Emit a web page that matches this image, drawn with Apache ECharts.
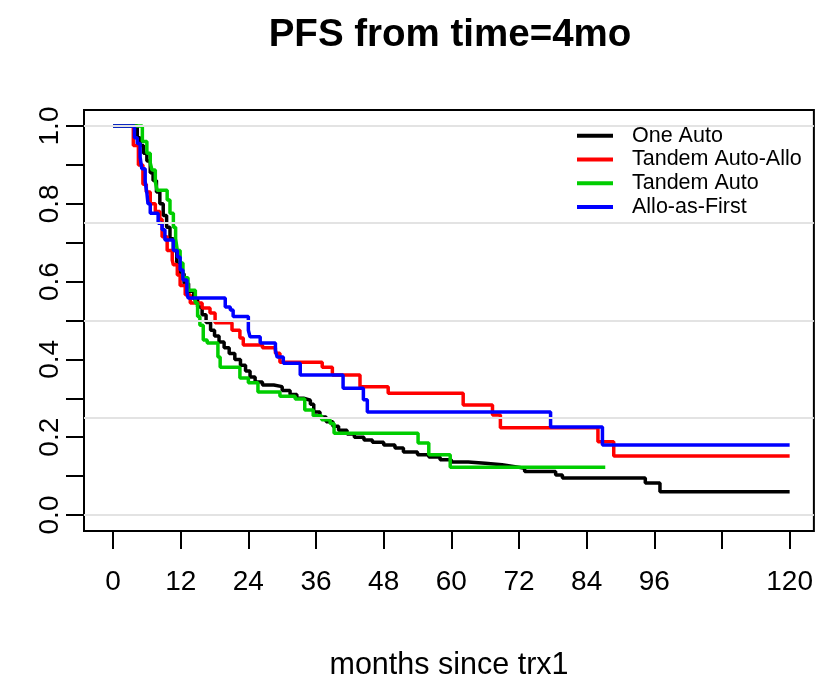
<!DOCTYPE html>
<html>
<head>
<meta charset="utf-8">
<script src="https://cdn.jsdelivr.net/npm/echarts@6/dist/echarts.min.js"></script>
<style>html,body{margin:0;padding:0;background:#fff}#c{width:816px;height:684px}</style>
</head>
<body>
<div id="c"></div>
<script>
// ---- data (months, survival proportion) ----
const seriesNames = ["One Auto", "Tandem Auto-Allo", "Tandem Auto", "Allo-as-First"];
const oneAutoT = [0,4.3,4.8,5.4,6,6.6,7.1,7.7,8.3,8.9,9.5,10.1,10.7,11.3,11.9,12.6,13.4,14.3,15,15.8,16.5,17.3,18,18.8,19.7,20.6,21.6,22.6,23.5,24.3,25.2,26.5,28.5,30,31.4,32.6,33.8,35,35.6,36.7,37.8,39,40,41.5,42.8,44.5,46,48,50,51.5,54,56,58,60,63,66,69,71,73,78.5,79.7,94.4,97,120];
const oneAutoS = [1.0,0.97,0.95,0.93,0.91,0.88,0.86,0.83,0.80,0.77,0.74,0.71,0.68,0.65,0.62,0.595,0.575,0.555,0.535,0.515,0.495,0.475,0.46,0.445,0.43,0.415,0.40,0.385,0.37,0.355,0.342,0.334,0.33,0.32,0.31,0.30,0.295,0.285,0.265,0.252,0.24,0.228,0.218,0.208,0.20,0.193,0.187,0.18,0.172,0.162,0.155,0.149,0.142,0.136,0.133,0.129,0.125,0.12,0.112,0.103,0.095,0.082,0.06,0.06];
const tandemAlloT = [0,3.6,4.5,5.3,5.9,6.6,7.5,8.3,8.7,9.6,10.5,10.7,11.4,11.9,12.8,13.7,15.8,17.2,18.1,21.1,22.5,23.1,26.5,28.8,29.6,37.1,38.9,43.8,48.8,62.1,67.3,68.7,86,88.8,120];
const tandemAlloS = [1.0,0.95,0.90,0.85,0.83,0.80,0.78,0.76,0.715,0.68,0.655,0.643,0.617,0.59,0.566,0.545,0.532,0.519,0.494,0.475,0.455,0.437,0.43,0.416,0.393,0.38,0.36,0.33,0.313,0.283,0.257,0.224,0.188,0.152,0.152];
const tandemAutoT = [0,5.2,6,6.6,6.9,7.5,7.8,9.6,10.1,10.7,11.1,11.4,11.9,12.4,13.3,14.6,15,15.4,16,16.7,18.6,19,22.5,24,25.7,29.6,32.3,34,35.5,37,38.5,39.2,54.1,56,59.8,87.3];
const tandemAutoS = [1.0,0.96,0.93,0.905,0.887,0.857,0.835,0.81,0.776,0.74,0.71,0.68,0.648,0.61,0.578,0.545,0.51,0.488,0.45,0.442,0.406,0.38,0.352,0.34,0.316,0.305,0.298,0.27,0.255,0.245,0.235,0.21,0.185,0.155,0.123,0.123];
const alloFirstT = [0,3.8,4.3,4.8,5.1,5.7,6,6.2,6.6,8,8.7,9.2,10.7,11.4,11.9,12.4,13.1,13.3,19.9,20.8,21.3,24,24.3,26.1,28.8,29.1,30.2,33.2,40.8,44.4,45.1,77.6,86.8,120];
const alloFirstS = [1.0,0.97,0.955,0.92,0.89,0.857,0.828,0.80,0.776,0.75,0.733,0.707,0.68,0.663,0.63,0.604,0.573,0.558,0.535,0.527,0.51,0.475,0.458,0.442,0.424,0.406,0.39,0.36,0.326,0.296,0.265,0.226,0.18,0.18];
const xTicks = [0,12,24,36,48,60,72,84,96,108,120];
const xLabels = [0,12,24,36,48,60,72,84,96,120];
const yTicks = [0,0.1,0.2,0.3,0.4,0.5,0.6,0.7,0.8,0.9,1.0];
const yLabels = [0,0.2,0.4,0.6,0.8,1.0];
const gridLevels = [0,0.25,0.5,0.75,1.0];

const colors = ["#000000", "#FF0000", "#00CD00", "#0000FF"];
const FONT = "Liberation Sans, Arial, sans-serif";
function pairs(t, s) { return t.map((v, i) => [v, s[i]]); }
const allData = [pairs(oneAutoT, oneAutoS), pairs(tandemAlloT, tandemAlloS), pairs(tandemAutoT, tandemAutoS), pairs(alloFirstT, alloFirstS)];

const chart = echarts.init(document.getElementById('c'), null, {renderer: 'canvas'});
const series = [{
  type: 'line', name: '_grid', data: [], silent: true, z: 1,
  markLine: {
    silent: true, symbol: ['none', 'none'], label: {show: false}, animation: false,
    lineStyle: {color: '#e3e3e3', width: 2, type: 'solid'},
    emphasis: {disabled: true},
    data: gridLevels.map(v => ({yAxis: v}))
  }
}];
allData.forEach((d, i) => series.push({
  type: 'line', name: seriesNames[i], data: d, step: 'end', showSymbol: false, symbol: 'none',
  lineStyle: {color: colors[i], width: 3.5}, itemStyle: {color: colors[i]}, z: 3,
  silent: true, emphasis: {disabled: true}
}));

chart.setOption({
  animation: false,
  backgroundColor: '#ffffff',
  grid: {left: 84, top: 110, right: 2, bottom: 153, show: true, borderColor: '#000', borderWidth: 2, backgroundColor: 'transparent'},
  xAxis: {
    type: 'value', min: -5.15, max: 124.3,
    axisLine: {show: false, onZero: false}, splitLine: {show: false},
    axisTick: {show: true, inside: false, length: 18, lineStyle: {color: '#000', width: 2}, customValues: xTicks},
    axisLabel: {show: true, customValues: xLabels, margin: 37, color: '#000', fontSize: 28, fontFamily: FONT}
  },
  yAxis: {
    type: 'value', min: -0.0411, max: 1.0411,
    axisLine: {show: false, onZero: false}, splitLine: {show: false},
    axisTick: {show: true, inside: false, length: 18, lineStyle: {color: '#000', width: 2}, customValues: yTicks},
    axisLabel: {show: true, customValues: yLabels, rotate: 90, margin: 20, color: '#000', fontSize: 28, fontFamily: FONT,
      formatter: v => Number(v).toFixed(1)}
  },
  legend: {
    data: seriesNames, orient: 'vertical', left: 577, top: 124, padding: 0, itemGap: 0,
    itemWidth: 36, itemHeight: 4, icon: 'rect', selectedMode: false,
    textStyle: {fontSize: 21.5, fontFamily: FONT, color: '#000', lineHeight: 23.7, padding: [0, 0, 0, 14]}
  },
  graphic: [
    {type: 'text', x: 450, y: 35, style: {text: 'PFS from time=4mo', font: 'bold 38.5px ' + FONT, fill: '#000', textAlign: 'center', textVerticalAlign: 'middle'}},
    {type: 'text', x: 449, y: 666, style: {text: 'months since trx1', font: '30.5px ' + FONT, fill: '#000', textAlign: 'center', textVerticalAlign: 'middle'}}
  ],
  series: series
});
</script>
</body>
</html>
